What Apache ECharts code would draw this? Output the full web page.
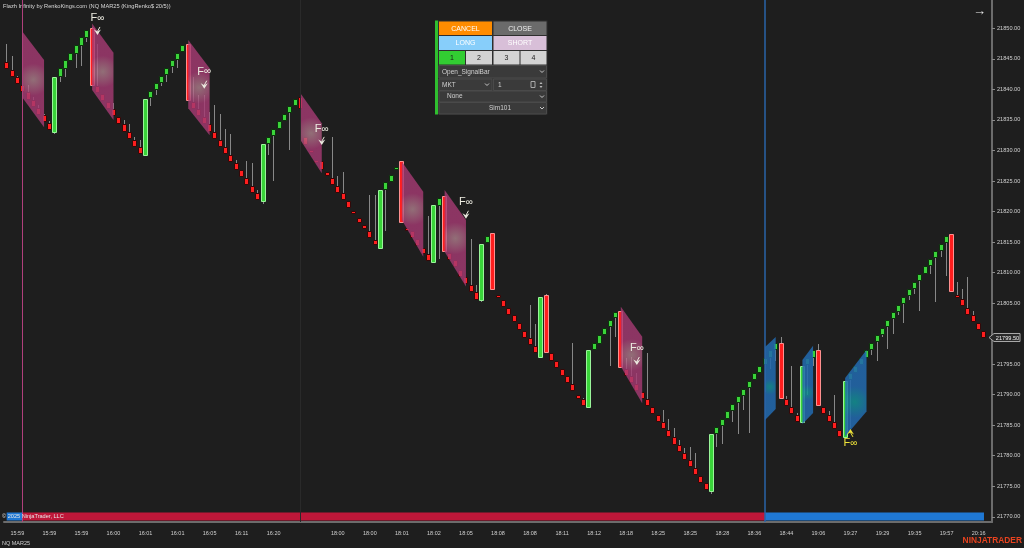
<!DOCTYPE html>
<html><head><meta charset="utf-8">
<script src="https://cdn.jsdelivr.net/npm/echarts@6/dist/echarts.min.js"></script>
<style>html,body{margin:0;padding:0;background:#1e1e1e;}#c{width:1024px;height:548px;}</style>
</head><body><div id="c"></div>
<script>
// ---------- DATA ----------
const opens=[21844.5,21843.25,21842,21840.75,21839.5,21838.25,21837,21835.75,21834.5,21833,
21842.25,21843.5,21844.75,21846,21847.25,21848.5,21850,21840.5,21839.25,21838,
21836.75,21835.5,21834.25,21833,21831.75,21830.5,21829.25,21838.75,21840,21841.25,
21842.5,21843.75,21845,21846.25,21847.5,21838,21836.75,21835.5,21834.25,21833,
21831.75,21830.5,21829.25,21828,21826.75,21825.5,21824.25,21823,21821.75,21831.25,
21832.5,21833.75,21835,21836.25,21837.5,21838.75,21832.25,21830,21828.5,21828.25,
21826.5,21825.5,21824.25,21823,21821.75,21820,21819,21817.75,21816.75,21815.25,
21814,21823.75,21825,21827,21828.25,21817.25,21816.75,21815.5,21814,21813,
21811.75,21821,21822.5,21813.25,21812,21810.5,21809.25,21808,21806.75,21805.5,
21815,21816.5,21806.25,21805.5,21804.25,21803,21801.75,21800.5,21799.25,21798,
21796.25,21806.25,21796.75,21795.5,21794.25,21793,21791.75,21790,21789.25,21788,
21797.5,21798.5,21800,21801.25,21802.75,21803.75,21794.25,21793,21791.75,21790.5,
21789.25,21788,21786.75,21785.5,21784.25,21783,21781.75,21780.5,21779.25,21778,
21776.75,21775.5,21774.25,21783.75,21785,21786.25,21787.5,21788.75,21790,21791.25,
21792.5,21793.75,21795,21796.25,21797.5,21798.5,21789.25,21788,21786.75,21785.5,
21795,21796.25,21797.25,21788,21786.75,21785.5,21784.25,21783,21792.5,21793.75,
21795,21796.25,21797.5,21798.75,21800,21801.25,21802.5,21803.75,21805,21806.25,
21807.5,21808.75,21810,21811.25,21812.5,21813.75,21815,21816.25,21806.25,21805.75,
21804.25,21803,21801.75,21800.5];
const closes=[21843.5,21842.25,21841,21839.75,21838.5,21837.25,21836,21834.75,21833.5,21842,
21843.5,21844.75,21846,21847.25,21848.5,21849.75,21840.75,21839.5,21838.25,21837,
21835.75,21834.5,21833.25,21832,21830.75,21829.5,21838.5,21839.75,21841,21842.25,
21843.5,21844.75,21846,21847.25,21838.25,21837,21835.75,21834.5,21833.25,21832,
21830.75,21829.5,21828.25,21827,21825.75,21824.5,21823.25,21822,21831,21832.25,
21833.5,21834.75,21836,21837.25,21838.5,21837,21831,21829.75,21828.25,21827,
21826,21824.5,21823.25,21822,21820.75,21819.75,21818.25,21817.25,21815.75,21814.75,
21823.5,21824.75,21826,21827.25,21818.25,21817,21815.75,21814.5,21813.25,21812,
21821,21822.25,21813.5,21812.25,21811,21809.5,21808.25,21807,21805.75,21814.75,
21816,21807.25,21806,21804.5,21803.25,21802,21800.75,21799.5,21798.25,21797,
21806,21797,21795.75,21794.5,21793.25,21792,21790.75,21789.5,21788.25,21797.25,
21798.5,21799.75,21801,21802.25,21803.5,21794.5,21793.25,21792,21790.75,21789.5,
21788.25,21787,21785.75,21784.5,21783.25,21782,21780.75,21779.5,21778.25,21777,
21775.75,21774.5,21783.5,21784.75,21786,21787.25,21788.5,21789.75,21791,21792.25,
21793.5,21794.75,21796,21797.25,21798.5,21789.5,21788.25,21787,21785.75,21794.75,
21796,21797.25,21788.25,21787,21785.75,21784.5,21783.25,21792.25,21793.5,21794.75,
21796,21797.25,21798.5,21799.75,21801,21802.25,21803.5,21804.75,21806,21807.25,
21808.5,21809.75,21811,21812.25,21813.5,21814.75,21816,21807,21806,21804.75,
21803.25,21802,21800.75,21799.5];
const lows=[21843.5,21842.25,21841,21839.75,21838.5,21837.25,21836,21834.75,21833.5,21832.75,
21841.25,21842,21844.75,21843.5,21843.75,21847.75,21840.75,21839.5,21838.25,21837,
21835.75,21834.5,21833.25,21832,21830.75,21829.5,21829.25,21837.25,21839,21840.5,
21841.25,21842.75,21843.5,21846.25,21838.25,21837,21835.75,21834.5,21833.25,21832,
21830.75,21829.5,21828.25,21827,21825.75,21824.5,21823.25,21822,21821.25,21829.25,
21825,21833.75,21835,21830,21837.5,21837,21831,21829.75,21828.25,21827,
21826,21824.5,21823.25,21822,21820.75,21819.75,21818.25,21817.25,21815.75,21814.75,
21814,21816.75,21825,21827,21818.25,21817,21815.75,21814.5,21813.25,21812,
21811.75,21812.25,21813.5,21812.25,21811,21809.5,21808.25,21807,21805.75,21805.25,
21815,21807.25,21806,21804.5,21803.25,21802,21800.75,21799.5,21798.25,21797,
21796.25,21797,21795.75,21794.5,21793.25,21792,21790.75,21789.5,21788.25,21788,
21797.5,21798.5,21800,21794.75,21799.5,21794.5,21793.25,21792,21790.75,21789.5,
21788.25,21787,21785.75,21784.5,21783.25,21782,21780.75,21779.5,21778.25,21777,
21775.75,21774.5,21773.75,21781.5,21782,21786.25,21785.5,21783.5,21787.5,21783.75,
21792.5,21793.75,21790.5,21794.25,21795.5,21789.5,21788.25,21787,21785.75,21785.5,
21790,21794.75,21788.25,21787,21785.75,21784.5,21783.25,21783,21784.5,21793.75,
21795,21796.25,21796.5,21795.5,21799.5,21797.5,21800,21803,21801.75,21805.5,
21806.5,21803.75,21810,21809.75,21805.25,21812.5,21809.5,21807,21806,21804.75,
21803.25,21802,21800.75,21799.5];
const highs=[21847.5,21845.5,21842.25,21840.75,21840.75,21838.75,21837.5,21836,21834.75,21842,
21843.5,21844.75,21846,21847.25,21848.5,21849.75,21850.25,21847.5,21839.25,21838,
21837.75,21835.5,21835,21834.25,21832.25,21831.75,21838.5,21839.75,21841,21842.25,
21843.5,21844.75,21846,21847.25,21847.5,21842,21839,21839,21836.25,21837.5,
21836,21833.5,21832.75,21828.5,21826.75,21828.25,21828,21823.5,21831,21832.25,
21833.5,21834.75,21836,21837.25,21838.5,21839.5,21832.25,21830,21828.5,21828.25,
21826.5,21832.25,21825.75,21826.5,21821.75,21820,21819,21817.75,21822.75,21822.75,
21823.5,21824.75,21826,21827.25,21828.25,21817.25,21816.75,21815.5,21814,21819.25,
21821,21822.25,21822.5,21813.25,21812,21810.5,21809.25,21815.5,21808,21814.75,
21816,21816.5,21806.25,21805.5,21804.25,21803,21801.75,21800.5,21804.75,21801.5,
21806,21806.5,21796.75,21795.5,21794.25,21793,21798.5,21790,21789.5,21797.25,
21798.5,21799.75,21801,21802.25,21803.5,21803.75,21796,21796.25,21793.5,21790.5,
21796.75,21788,21786.75,21787.5,21786,21784.5,21782.5,21781.25,21781.5,21780.5,
21776.75,21775.5,21783.5,21784.75,21786,21787.25,21788.5,21789.75,21791,21792.25,
21793.5,21794.75,21796,21797.25,21798.5,21799.5,21789.75,21794.75,21787,21794.75,
21796,21797.25,21798.25,21788,21787.25,21790,21784.25,21792.25,21793.5,21794.75,
21796,21797.25,21798.5,21799.75,21801,21802.25,21803.5,21804.75,21806,21807.25,
21808.5,21809.75,21811,21812.25,21813.5,21814.75,21816,21816.25,21808.5,21807.25,
21809.25,21803.75,21801.75,21800.5];
const timeLabels=['15:59','15:59','15:59','16:00','16:01','16:01','16:05','16:11','16:20','',
'18:00','18:00','18:01','18:02','18:05','18:08','18:08','18:11','18:12','18:18',
'18:25','18:25','18:28','18:36','18:44','19:06','19:27','19:29','19:35','19:57','20:16'];
const priceTicks=[21770,21775,21780,21785,21790,21795,21800,21805,21810,21815,21820,21825,21830,21835,21840,21845,21850];
// zones: [startBar, endBar, topStart, topEnd, bottomStart, bottomEnd]
const shortZones=[
[3,7,21849.4,21844.8,21838.6,21833.8],
[16,20,21850.8,21846.0,21839.9,21835.0],
[34,38,21848.1,21843.45,21836.9,21832.5],
[55,59,21839.35,21834.45,21831.7,21826.25],
[74,78,21828.15,21823.25,21818.6,21812.6],
[82,86,21823.5,21818.6,21813.4,21807.7],
[115,119,21804.4,21799.5,21794.6,21788.6]];
const longZones=[
[142,144,21797.8,21799.45,21785.85,21787.65],
[149,151,21795.7,21798.0,21785.2,21787.0],
[157,161,21792.75,21797.3,21783.15,21787.25]];
const shortSignalBars=[17,37,59,86,118];
const shortSignalText=[21851.7,21842.9,21833.5,21821.5,21797.6];
const shortSignalArrow=[21849.4,21840.6,21831.4,21819.3,21795.35];
const longSignalBars=[158];
const longSignalText=[21782.1];
const longSignalArrow=[21783.9];
// trend ribbon segments: [fromBar, toBar, direction]
const trendSegments=[[0,3,1],[3,142,-1],[142,183,1]];
const trendChangeBars=[3,142];
const sessionBreakBar=55;

// ---------- BUILD ----------
const FONT='Arial, "Liberation Sans", sans-serif';
const N=opens.length;
const categories=Array.from({length:N+1},(_,i)=>String(i));
const candleData=opens.map((o,i)=>[i,o,closes[i],lows[i],highs[i]]);
const lastClose=closes[N-1];
const axisLabelValues=priceTicks.filter(v=>Math.abs(v-lastClose)>2);
function labelFor(i){ if(i<2||(i-2)%6!==0) return null; const k=(i-2)/6; return k<timeLabels.length?timeLabels[k]:null; }

function renderCandle(params, api){
  const i=api.value(0), o=api.value(1), c=api.value(2), l=api.value(3), h=api.value(4);
  const pO=api.coord([i,o]), pC=api.coord([i,c]), pL=api.coord([i,l]), pH=api.coord([i,h]);
  const up=c>=o;
  const big=Math.abs(c-o)>3;
  const left=Math.round(pO[0]-2.5)+0.5;
  const top=Math.round(Math.min(pO[1],pC[1]))+0.5, bot=Math.round(Math.max(pO[1],pC[1]))+0.5;
  const fill=up?'#3ad43a':'#ff1e1e';
  const stroke=big?(up?'#9af59a':'#ff9090'):(up?'#0c330c':'#330808');
  const children=[];
  if(h>l) children.push({type:'line',shape:{x1:left+2,y1:Math.round(pH[1]),x2:left+2,y2:Math.round(pL[1])},style:{stroke:'#888888',lineWidth:1}});
  children.push({type:'rect',shape:{x:left,y:top,width:4,height:Math.max(bot-top,2)},style:{fill:fill,stroke:stroke,lineWidth:1}});
  return {type:'group',children:children};
}
function zoneRenderer(isLong){
  return function(params, api){
    const a=api.value(0), b=api.value(1);
    const p1=api.coord([a,api.value(2)]), p2=api.coord([b,api.value(3)]), p3=api.coord([b,api.value(5)]), p4=api.coord([a,api.value(4)]);
    const fill=isLong
      ? new echarts.graphic.RadialGradient(0.45,0.6,0.75,[{offset:0,color:'rgba(18,146,148,0.86)'},{offset:1,color:'rgba(34,104,172,0.88)'}])
      : new echarts.graphic.RadialGradient(0.5,0.5,0.75,[{offset:0,color:'rgba(186,138,150,0.74)'},{offset:1,color:'rgba(164,58,114,0.82)'}]);
    return {type:'polygon',shape:{points:[p1,p2,p3,p4]},style:{fill:fill}};
  };
}
function renderSignal(params, api){
  const bar=api.value(0), tp=api.value(1), ap=api.value(2), dir=api.value(3);
  const t=api.coord([bar,tp]), a=api.coord([bar,ap]);
  const col=dir>0?'#f0e43a':'#ecebe0';
  const s=dir>0?-1:1;
  const ax=a[0], ay=a[1];
  return {type:'group',children:[
    {type:'text',x:t[0],y:t[1],style:{text:'{f|F}{i|∞}',rich:{f:{fontSize:11,fontFamily:FONT,fill:col},i:{fontSize:10,fontFamily:FONT,fill:col}},align:'center',verticalAlign:'middle'}},
    {type:'polygon',shape:{points:[[ax-3.5,ay-2.5*s],[ax,ay+3*s],[ax+3.5,ay-2.5*s],[ax,ay-0.5*s]]},style:{fill:col}},
    {type:'line',shape:{x1:ax,y1:ay-0.5*s,x2:ax+2.5,y2:ay-5*s},style:{stroke:col,lineWidth:1}}
  ]};
}
function renderRibbon(params, api){
  const p0=api.coord([api.value(0),21800]), p1=api.coord([api.value(1),21800]);
  const cs=params.coordSys;
  const y=cs.y+cs.height-9.5;
  return {type:'rect',shape:{x:p0[0],y:y,width:p1[0]-p0[0],height:8},style:{fill:api.value(2)>0?'#1f78d4':'#be1739'}};
}
function renderLastPrice(params, api){
  const p=api.coord([api.value(0),api.value(1)]);
  const cs=params.coordSys;
  const x0=cs.x+cs.width-3, y=Math.round(p[1])+0.5;
  return {type:'group',children:[
    {type:'polygon',shape:{points:[[x0,y],[x0+5,y-4],[x0+31,y-4],[x0+31,y+4],[x0+5,y+4]]},style:{fill:'#2a2a2a',stroke:'#a8a8a8',lineWidth:1}},
    {type:'text',x:x0+18.5,y:y+0.5,style:{text:api.value(1).toFixed(2),fill:'#f0f0f0',font:'5.6px '+FONT,align:'center',verticalAlign:'middle'}}
  ]};
}
const signalData=shortSignalBars.map((b,i)=>[b,shortSignalText[i],shortSignalArrow[i],-1])
  .concat(longSignalBars.map((b,i)=>[b,longSignalText[i],longSignalArrow[i],1]));

// control panel graphics
const panel=[];
function btn(x,y,w,h,fill,text,tc){
  panel.push({type:'rect',shape:{x:x,y:y,width:w,height:h},style:{fill:fill}});
  panel.push({type:'text',x:x+w/2,y:y+h/2+0.5,style:{text:text,fill:tc,font:'7px '+FONT,align:'center',verticalAlign:'middle'}});
}
function chev(x,y){ panel.push({type:'polyline',shape:{points:[[x-2,y-1],[x,y+1],[x+2,y-1]]},style:{stroke:'#c8c8c8',lineWidth:1,fill:null}}); }
panel.push({type:'rect',shape:{x:438,y:20.5,width:109.5,height:94},style:{fill:'#2e2e2e'}});
panel.push({type:'rect',shape:{x:435,y:20.5,width:3,height:94},style:{fill:'#2fbf2f'}});
btn(439,21.5,53,13.5,'#ff8c00','CANCEL','#ffffff');
btn(493.5,21.5,53,13.5,'#6b6b6b','CLOSE','#f0f0f0');
btn(439,36,53,14,'#87cefa','LONG','#ffffff');
btn(493.5,36,53,14,'#d8bfd8','SHORT','#ffffff');
btn(439,51,26,13.5,'#32cd32','1','#1a1a1a');
btn(466,51,26,13.5,'#d3d3d3','2','#1a1a1a');
btn(493.5,51,26,13.5,'#d3d3d3','3','#1a1a1a');
btn(520.5,51,26,13.5,'#d3d3d3','4','#1a1a1a');
[[439,65.5,107.5,12.5],[439,79,53,11.5],[493.5,79,53,11.5],[439,91,107.5,11],[439,102.5,107.5,11.5]].forEach(r=>{
  panel.push({type:'rect',shape:{x:r[0],y:r[1],width:r[2],height:r[3]},style:{fill:'#3a3a3a',stroke:'#4a4a4a',lineWidth:1}});
});
function ptxt(x,y,t,align){ panel.push({type:'text',x:x,y:y,style:{text:t,fill:'#d0d0d0',font:'6.5px '+FONT,align:align||'left',verticalAlign:'middle'}}); }
ptxt(442,72,'Open_SignalBar'); chev(542,71.5);
ptxt(442,85,'MKT'); chev(487,84.5);
ptxt(498,85,'1');
panel.push({type:'rect',shape:{x:531,y:81.5,width:4,height:6},style:{fill:'none',stroke:'#aaaaaa',lineWidth:1}});
panel.push({type:'polygon',shape:{points:[[539.5,84],[541,82],[542.5,84]]},style:{fill:'#bbbbbb'}});
panel.push({type:'polygon',shape:{points:[[539.5,86],[541,88],[542.5,86]]},style:{fill:'#bbbbbb'}});
ptxt(447,96.5,'None'); chev(542,96.5);
ptxt(500,108.5,'Sim101','center'); chev(542,108);

const texts=[
  {type:'text',left:3,top:3,style:{text:'Flazh Infinity by RenkoKings.com (NQ MAR25 (KingRenko$ 20/5))',fill:'#d8d8d8',font:'5.7px '+FONT}},
  {type:'text',left:973,top:5,style:{text:'→',fill:'#e8e8e8',font:'13px '+FONT}},
  {type:'text',left:2,top:513.5,z:100,style:{text:'© 2025 NinjaTrader, LLC',fill:'#e6e6e6',font:'5.6px '+FONT}},
  {type:'text',left:2,top:540,style:{text:'NQ MAR25',fill:'#cfcfcf',font:'5.5px '+FONT}},
  {type:'text',right:2,top:537,style:{text:'NINJATRADER',fill:'#e8431f',font:'bold 8.4px '+FONT}}
];

const option={
  backgroundColor:'#1e1e1e',
  animation:false,
  grid:{left:4,right:32,top:0,bottom:26},
  xAxis:{type:'category',data:categories,boundaryGap:true,
    axisLine:{lineStyle:{color:'#6c6c6c',width:2}},
    axisTick:{alignWithLabel:true,length:3,interval:(i)=>!!labelFor(i),lineStyle:{color:'#8a8a8a'}},
    axisLabel:{interval:(i)=>!!labelFor(i),formatter:(v,i)=>labelFor(i)||'',color:'#d0d0d0',fontSize:5.5,fontFamily:FONT,margin:8},
    splitLine:{show:false}},
  yAxis:{type:'value',position:'right',min:21769.15,max:21854.635,
    axisLine:{show:true,lineStyle:{color:'#6c6c6c',width:2}},
    axisTick:{show:true,length:3,customValues:axisLabelValues,lineStyle:{color:'#8a8a8a'}},
    axisLabel:{customValues:axisLabelValues,formatter:v=>v.toFixed(2),color:'#d0d0d0',fontSize:5.6,fontFamily:FONT,margin:5},
    splitLine:{show:false}},
  series:[
    {type:'custom',name:'ribbon',renderItem:renderRibbon,data:trendSegments,encode:{x:[0,1]},z:1,silent:true,
      markLine:{silent:true,symbol:'none',label:{show:false},
        data:[
          {xAxis:trendChangeBars[0],lineStyle:{color:'#b0407c',width:1,type:'solid'}},
          {xAxis:trendChangeBars[1],lineStyle:{color:'#2a64a8',width:1.5,type:'solid'}},
          {xAxis:sessionBreakBar,lineStyle:{color:'#2a2a2a',width:1,type:'solid'}}
        ]}},
    {type:'custom',name:'candles',renderItem:renderCandle,data:candleData,encode:{x:0,y:[1,2,3,4]},z:3},
    {type:'custom',name:'shortZones',renderItem:zoneRenderer(false),data:shortZones,encode:{x:[0,1],y:[2,3,4,5]},z:4,silent:true},
    {type:'custom',name:'longZones',renderItem:zoneRenderer(true),data:longZones,encode:{x:[0,1],y:[2,3,4,5]},z:4,silent:true},
    {type:'custom',name:'signals',renderItem:renderSignal,data:signalData,encode:{x:0,y:[1,2]},z:6,silent:true},
    {type:'custom',name:'lastPrice',renderItem:renderLastPrice,data:[[N-1,lastClose]],encode:{x:0,y:1},z:7,silent:true,clip:false}
  ],
  graphic:[{type:'group',children:panel,z:50}].concat(texts)
};
const chart=echarts.init(document.getElementById('c'),null,{renderer:'canvas',width:1024,height:548});
chart.setOption(option);
</script>
</body></html>
